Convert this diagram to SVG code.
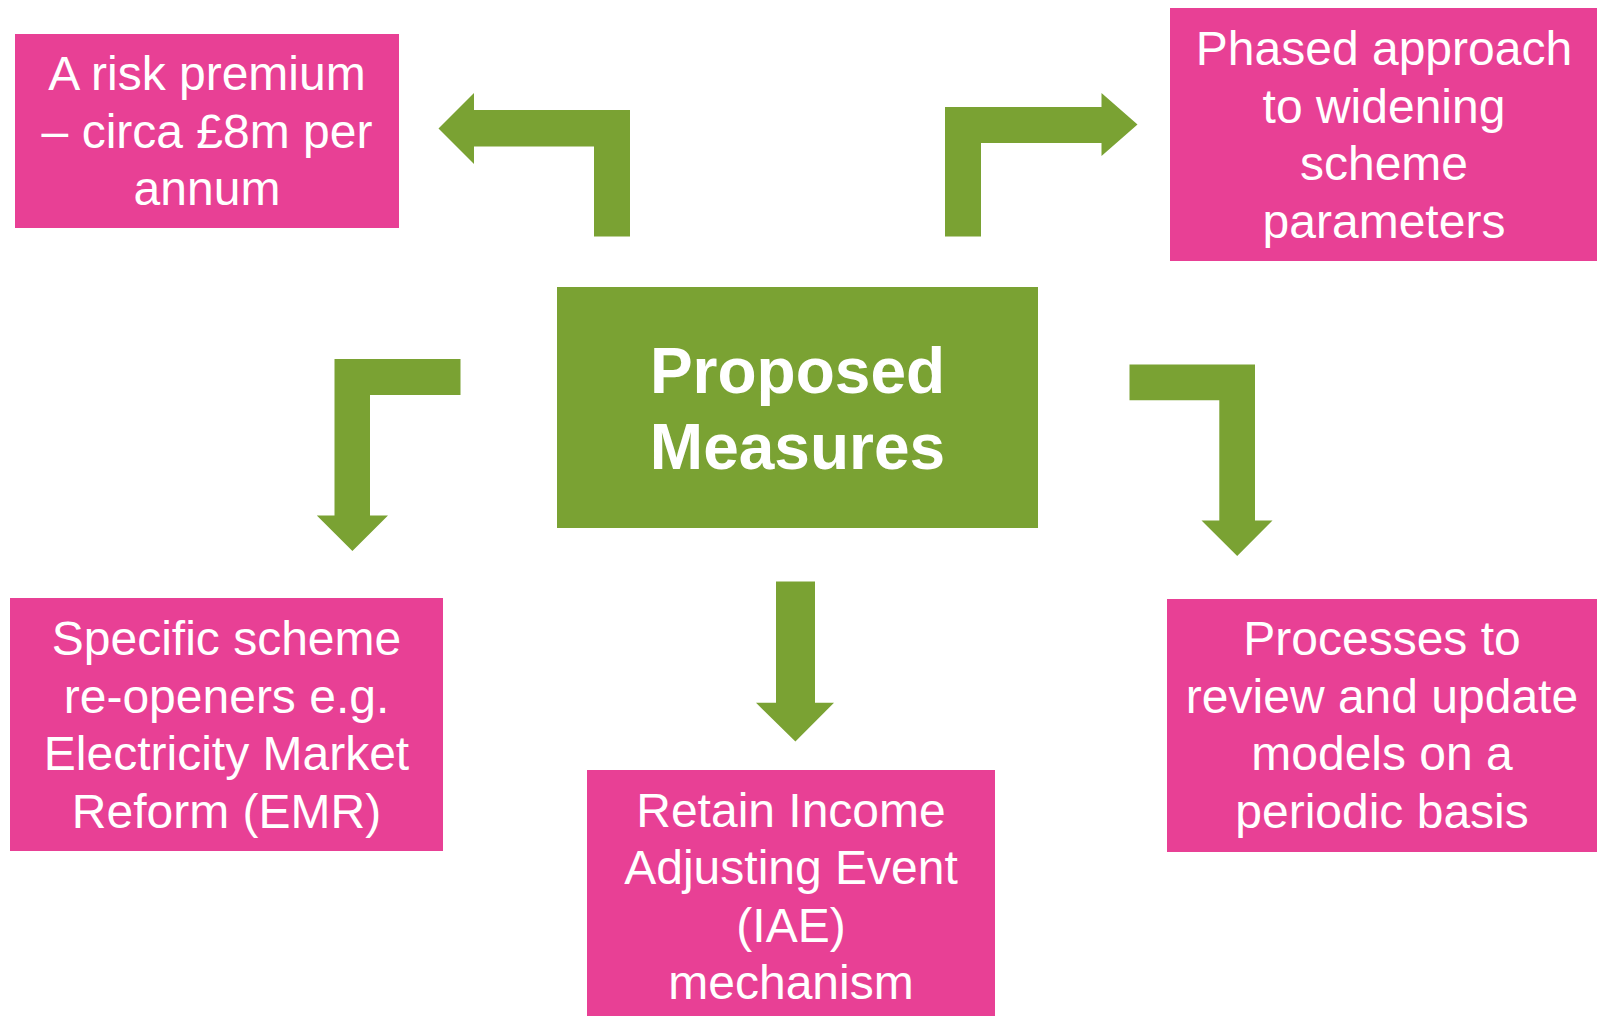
<svg xmlns="http://www.w3.org/2000/svg" width="1597" height="1016" viewBox="0 0 1597 1016">
<style>
.box{fill:#E84095}
.center{fill:#7AA233}
.arrow{fill:#7AA233}
.t{font-family:"Liberation Sans",Arial,sans-serif;font-size:48px;fill:#FFFFFF;text-anchor:middle}
.tb{font-family:"Liberation Sans",Arial,sans-serif;font-size:64px;font-weight:bold;fill:#FFFFFF;text-anchor:middle}
</style>
<rect width="1597" height="1016" fill="#FFFFFF"/>
<g id="connectors">
<polygon class="arrow" points="630,236.5 630,110 474,110 474,93 438.5,128.5 474,164 474,146.5 594,146.5 594,236.5"/>
<polygon class="arrow" points="945,236.5 945,107 1101.5,107 1101.5,93 1137.5,124.5 1101.5,156 1101.5,143 981,143 981,236.5"/>
<polygon class="arrow" points="460.5,359 334.5,359 334.5,515.5 316.8,515.5 352.4,551 388,515.5 370,515.5 370,395 460.5,395"/>
<polygon class="arrow" points="776,581.5 815,581.5 815,702.8 834,702.8 795.4,741.6 756,702.8 776,702.8"/>
<polygon class="arrow" points="1129.5,364.5 1255,364.5 1255,520.4 1272.5,520.4 1237.2,556 1201.5,520.4 1219.3,520.4 1219.3,400.2 1129.5,400.2"/>
</g>
<g id="node-center">
<rect class="center" x="557" y="287" width="481" height="241"/>
<text class="tb" x="797.5" y="392.5">Proposed</text>
<text class="tb" x="797.5" y="469.3">Measures</text>
</g>
<g id="node-risk-premium">
<rect class="box" x="15" y="34" width="384" height="194"/>
<text class="t" x="207" y="90">A risk premium</text>
<text class="t" x="207" y="148">– circa £8m per</text>
<text class="t" x="207" y="205">annum</text>
</g>
<g id="node-phased">
<rect class="box" x="1170" y="8" width="427" height="253"/>
<text class="t" x="1384" y="65">Phased approach</text>
<text class="t" x="1384" y="123">to widening</text>
<text class="t" x="1384" y="180">scheme</text>
<text class="t" x="1384" y="237.5">parameters</text>
</g>
<g id="node-reopeners">
<rect class="box" x="10" y="598" width="433" height="253"/>
<text class="t" x="226.5" y="655">Specific scheme</text>
<text class="t" x="226.5" y="712.5">re-openers e.g.</text>
<text class="t" x="226.5" y="770">Electricity Market</text>
<text class="t" x="226.5" y="827.5">Reform (EMR)</text>
</g>
<g id="node-iae">
<rect class="box" x="587" y="770" width="408" height="246"/>
<text class="t" x="791" y="826.5">Retain Income</text>
<text class="t" x="791" y="884">Adjusting Event</text>
<text class="t" x="791" y="941.5">(IAE)</text>
<text class="t" x="791" y="999">mechanism</text>
</g>
<g id="node-processes">
<rect class="box" x="1167" y="599" width="430" height="253"/>
<text class="t" x="1382" y="655">Processes to</text>
<text class="t" x="1382" y="713">review and update</text>
<text class="t" x="1382" y="770">models on a</text>
<text class="t" x="1382" y="828">periodic basis</text>
</g>
</svg>
